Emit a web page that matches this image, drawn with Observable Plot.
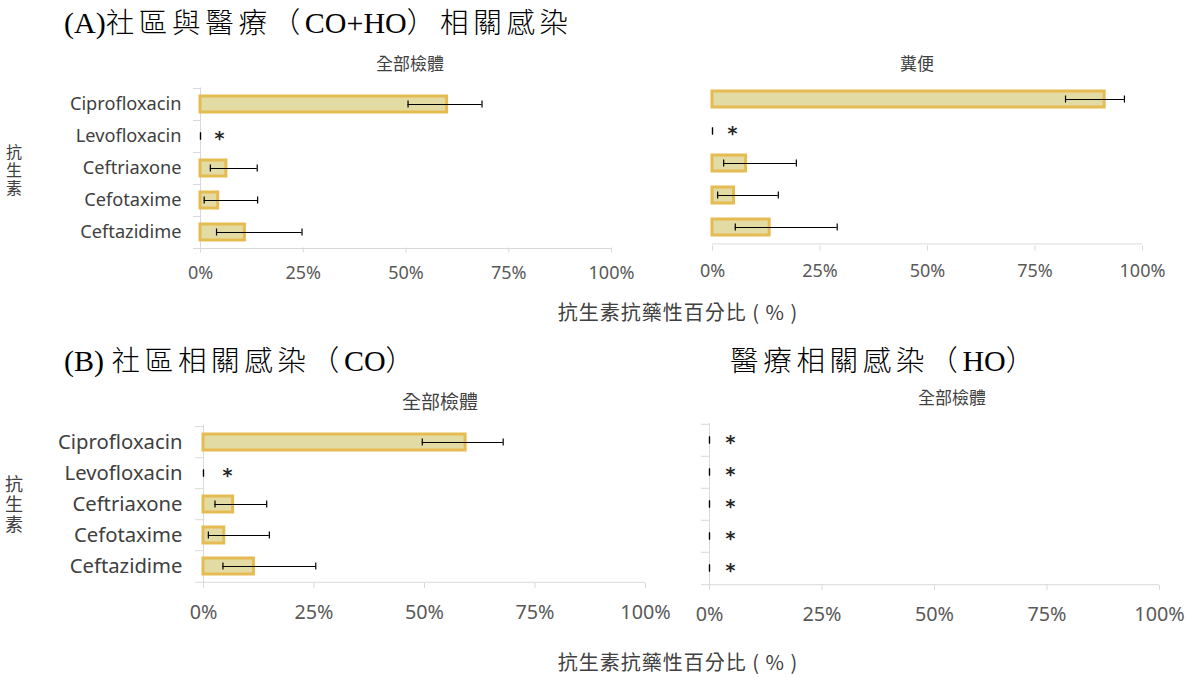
<!DOCTYPE html>
<html><head><meta charset="utf-8">
<script src="https://cdn.jsdelivr.net/npm/d3@7"></script>
<script src="https://cdn.jsdelivr.net/npm/@observablehq/plot@0.6"></script>
<style>
body{margin:0;background:#fff;}
#root{position:relative;width:1193px;height:677px;overflow:hidden;background:#fff;font-family:"Noto Sans","Noto Sans CJK TC",sans-serif;}
.t{position:absolute;white-space:nowrap;transform:translate(-50%,-50%);line-height:1;}
.title{position:absolute;white-space:nowrap;transform:translateY(-50%);color:#000;line-height:1;}
.title .lat{font-family:"Liberation Serif",serif;font-size:30px;letter-spacing:0;}
.title .cjk{font-family:"Noto Sans CJK TC",sans-serif;font-size:28.5px;font-weight:300;letter-spacing:4.7px;}
.sub{color:#404040;font-family:"Noto Sans CJK TC",sans-serif;}
.vert{writing-mode:vertical-rl;color:#404040;font-family:"Noto Sans CJK TC",sans-serif;}
.plot{position:absolute;}
</style></head><body><div id="root"></div>
<script>
// ---- data ----
const categories = ["Ciprofloxacin", "Levofloxacin", "Ceftriaxone", "Cefotaxime", "Ceftazidime"];
const tickValues = [0, 25, 50, 75, 100];

// (A) CO+HO, all specimens
const aAllValues = [60.0, 0, 6.3, 4.3, 10.8];
const aAllLow    = [50.5, 0, 2.4, 0.9, 3.9];
const aAllHigh   = [68.5, 0, 13.8, 13.9, 24.7];
const aAllStar   = [false, true, false, false, false];

// (A) CO+HO, stool
const aStoolValues = [91.2, 0, 7.8, 5.0, 13.3];
const aStoolLow    = [82.1, 0, 2.6, 1.2, 5.3];
const aStoolHigh   = [95.8, 0, 19.5, 15.3, 29.0];
const aStoolStar   = [false, true, false, false, false];

// (B) CO, all specimens
const bCoValues = [59.3, 0, 6.7, 4.7, 11.4];
const bCoLow    = [49.5, 0, 2.6, 1.1, 4.4];
const bCoHigh   = [67.8, 0, 14.3, 14.9, 25.4];
const bCoStar   = [false, true, false, false, false];

// HO, all specimens
const hoValues = [0, 0, 0, 0, 0];
const hoLow    = [0, 0, 0, 0, 0];
const hoHigh   = [0, 0, 0, 0, 0];
const hoStar   = [true, true, true, true, true];

// title pieces: [text, script]
const titleA = [["(A)", "lat"], ["社區與醫療（", "cjk"], ["CO+HO", "lat"], ["）相關感染", "cjk"]];
const titleB = [["(B) ", "lat"], ["社區相關感染（", "cjk"], ["CO", "lat"], ["）", "cjk"]];
const titleHO = [["醫療相關感染（", "cjk"], ["HO", "lat"], ["）", "cjk"]];

const root = document.getElementById("root");

function addText(cls, txt, x, y, style) {
  const d = document.createElement("div");
  d.className = cls;
  d.textContent = txt;
  d.style.left = x + "px";
  d.style.top = y + "px";
  Object.assign(d.style, style || {});
  root.appendChild(d);
}
function addTitle(pieces, x, y) {
  const d = document.createElement("div");
  d.className = "title";
  d.style.left = x + "px";
  d.style.top = y + "px";
  for (const [txt, cls] of pieces) {
    const s = document.createElement("span");
    s.className = cls;
    s.textContent = txt;
    d.appendChild(s);
  }
  root.appendChild(d);
}

function panel(cfg) {
  const rows = categories.map((c, i) => ({c, v: cfg.values[i], lo: cfg.low[i], hi: cfg.high[i], star: cfg.star[i]}));
  const half = (cfg.height - cfg.mt - cfg.mb) / 10;
  const grey = "#d9d9d9";
  const marks = [];
  if (cfg.yLine) {
    marks.push(Plot.ruleX([0], {stroke: grey, strokeWidth: 1}));
    marks.push(Plot.ruleY(categories, {y: d => d, x1: 0, x2: 0, dy: -half, insetLeft: -cfg.tick, stroke: grey}));
  }
  marks.push(Plot.ruleY([categories[categories.length - 1]], {y: d => d, dy: half, insetLeft: cfg.yLine ? -cfg.tick : 0, stroke: grey}));
  marks.push(Plot.barX(rows.filter(d => d.v > 0), {x: "v", y: "c", fill: "#e3dba4", stroke: "#e6bb52", strokeWidth: 3}));
  marks.push(Plot.ruleY(rows, {y: "c", x1: "lo", x2: "hi", stroke: "#000", strokeWidth: 1}));
  marks.push(Plot.tickX(rows, {x: "lo", y: "c", insetTop: 4.5, insetBottom: 4.5, stroke: "#000", strokeWidth: 1.2}));
  marks.push(Plot.tickX(rows, {x: "hi", y: "c", insetTop: 4.5, insetBottom: 4.5, stroke: "#000", strokeWidth: 1.2}));
  marks.push(Plot.text(rows.filter(d => d.star), {x: "v", y: "c", text: () => "*", dx: cfg.starDx, dy: 2.5, fontSize: 19, fontWeight: "bold", fill: "#262626", fontFamily: "DejaVu Sans"}));
  marks.push(Plot.axisX({ticks: tickValues, tickFormat: d => d + "%", tickSize: 5, tickPadding: cfg.xPad, stroke: grey, fill: "#595959", fontSize: cfg.xfs, label: null}));
  if (cfg.yLabels) {
    marks.push(Plot.axisY({tickSize: 0, tickPadding: cfg.yPad, fill: "#404040", fontSize: cfg.yfs, label: null}));
  }
  const chart = Plot.plot({
    width: cfg.width, height: cfg.height,
    marginLeft: cfg.ml, marginRight: cfg.mr, marginTop: cfg.mt, marginBottom: cfg.mb,
    x: {domain: [0, 100]},
    y: Object.assign({domain: categories, paddingInner: 0.5, paddingOuter: 0.25}, cfg.yLabels ? {} : {axis: null}),
    style: {fontFamily: '"Noto Sans", sans-serif', overflow: "visible", background: "transparent"},
    marks
  });
  chart.classList.add("plot");
  chart.style.left = cfg.left + "px";
  chart.style.top = cfg.top + "px";
  root.appendChild(chart);
}

// A left: x 200..611, y 87.5..247.5
panel({values: aAllValues, low: aAllLow, high: aAllHigh, star: aAllStar,
  left: 0, top: 60, width: 640, height: 230, ml: 200, mr: 29, mt: 27.5, mb: 42.5,
  yLine: true, tick: 7, yLabels: true, yPad: 19, yfs: 18.2, xPad: 13, xfs: 18, starDx: 19});
// A right: x 712..1142, y 81..245.5
panel({values: aStoolValues, low: aStoolLow, high: aStoolHigh, star: aStoolStar,
  left: 650, top: 60, width: 540, height: 230, ml: 62, mr: 48, mt: 21, mb: 44.5,
  yLine: false, tick: 0, yLabels: false, xPad: 13, xfs: 18, starDx: 20});
// B left: x 203..645, y 425..583
panel({values: bCoValues, low: bCoLow, high: bCoHigh, star: bCoStar,
  left: 0, top: 400, width: 660, height: 230, ml: 203, mr: 15, mt: 25, mb: 47,
  yLine: true, tick: 8, yLabels: true, yPad: 21, yfs: 20.3, xPad: 16, xfs: 19.8, starDx: 24});
// B right: x 709..1159, y 423..585
panel({values: hoValues, low: hoLow, high: hoHigh, star: hoStar,
  left: 660, top: 400, width: 533, height: 230, ml: 49, mr: 34, mt: 23, mb: 45,
  yLine: true, tick: 8, yLabels: false, xPad: 16, xfs: 19.8, starDx: 21});

// ---- texts ----
addTitle(titleA, 64, 22);
addTitle(titleB, 64, 360);
addTitle(titleHO, 730, 360);
addText("t sub", "全部檢體", 410, 62, {fontSize: "17px"});
addText("t sub", "糞便", 917, 62, {fontSize: "17px"});
addText("t sub", "全部檢體", 440, 400, {fontSize: "19px"});
addText("t sub", "全部檢體", 952, 396, {fontSize: "17px"});
addText("t vert", "抗生素", 14, 171, {fontSize: "16px", letterSpacing: "2px"});
addText("t vert", "抗生素", 14, 505, {fontSize: "18px", letterSpacing: "2px"});
addText("t sub", "抗生素抗藥性百分比 ( % )", 678, 312, {fontSize: "20px", letterSpacing: "1px"});
addText("t sub", "抗生素抗藥性百分比 ( % )", 678, 662, {fontSize: "20px", letterSpacing: "1px"});
</script>
</body></html>
